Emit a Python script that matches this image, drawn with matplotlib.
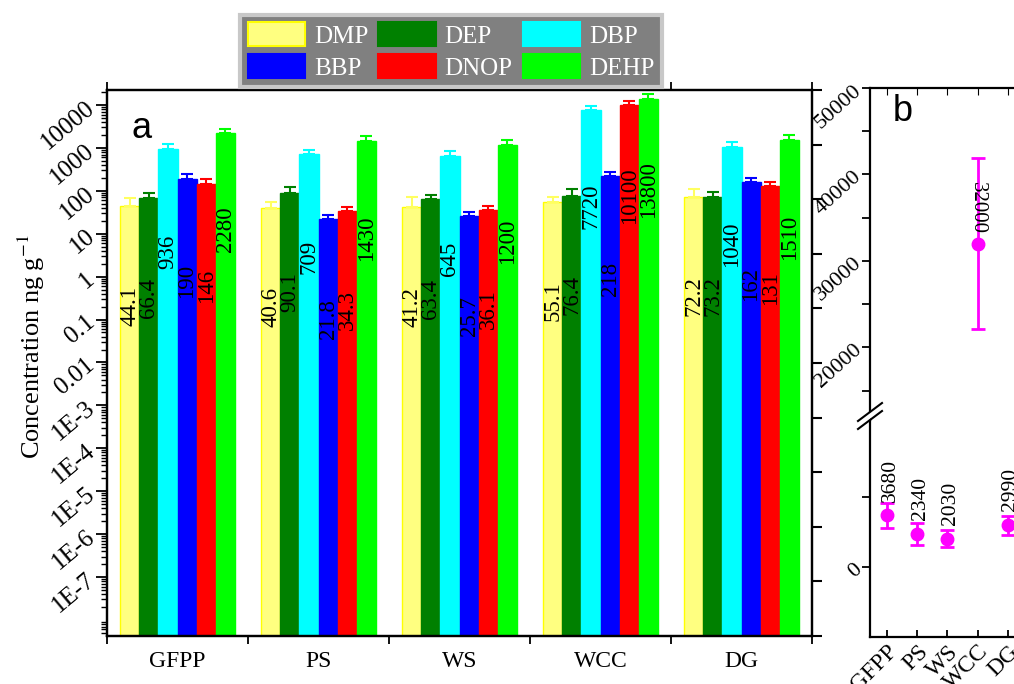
import matplotlib
matplotlib.use('Agg')
import matplotlib.pyplot as plt
import numpy as np
from matplotlib.patches import Patch, Polygon
from matplotlib.lines import Line2D
from matplotlib.ticker import LogLocator, FixedLocator, NullFormatter
from matplotlib.transforms import ScaledTranslation

plt.rcParams['font.family'] = ['Liberation Serif', 'DejaVu Serif']
plt.rcParams['mathtext.fontset'] = 'stix'

# sampling sites and compounds
sites = ['GFPP', 'PS', 'WS', 'WCC', 'DG']
compounds = ['DMP', 'DEP', 'DBP', 'BBP', 'DNOP', 'DEHP']

# mean concentrations (ng/g) per compound, one value per site
dmp = [44.1, 40.6, 41.2, 55.1, 72.2]
dep = [66.4, 90.1, 63.4, 76.4, 73.2]
dbp = [936, 709, 645, 7720, 1040]
bbp = [190, 21.8, 25.7, 218, 162]
dnop = [146, 34.3, 36.1, 10100, 131]
dehp = [2280, 1430, 1200, 13800, 1510]

dmp_err = [24, 15, 29, 17, 39]
dep_err = [25, 34, 15, 35, 23]
dbp_err = [290, 170, 200, 1850, 320]
bbp_err = [59, 5.2, 6.2, 52, 39]
dnop_err = [45, 8.2, 8.7, 2400, 31]
dehp_err = [550, 440, 290, 4300, 470]

# panel b: total concentration per site
total = [3680, 2340, 2030, 32000, 2990]
total_err = [890, 780, 600, 9900, 670]

fills = ['#ffff80', '#008000', '#00ffff', '#0000ff', '#ff0000', '#00ff00']
edges = ['#ffff00', '#008000', '#00ffff', '#0000ff', '#ff0000', '#00ff00']
err_colors = ['#ffff60', '#008000', '#00ffff', '#0000ff', '#ff0000', '#00ff00']

values = [dmp, dep, dbp, bbp, dnop, dehp]
errors = [dmp_err, dep_err, dbp_err, bbp_err, dnop_err, dehp_err]

W, H = 1014, 684
fig = plt.figure(figsize=(W / 100, H / 100), dpi=100)


def fx(px):
    return px / W


def fy(py):
    return 1 - py / H


''' panel a: bars on log scale '''
ax = fig.add_axes([fx(107), fy(636), fx(812) - fx(107), fy(90) - fy(636)])
x = np.arange(len(sites))
width = 0.135
for i, name in enumerate(compounds):
    pos = x + (i - 2.5) * width
    vals = np.array(values[i])
    errs = np.array(errors[i])
    ax.bar(pos, vals, width, color=fills[i], edgecolor=edges[i], linewidth=1,
           yerr=[np.zeros_like(errs), errs],
           error_kw=dict(ecolor=err_colors[i], elinewidth=1.5, capsize=4, capthick=1.5))
    for xp, v in zip(pos, vals):
        ax.annotate(f'{v:g}', (xp, v), xytext=(0, -86), textcoords='offset points',
                    rotation=90, ha='center', va='bottom', fontsize=16.5, color='black')

ax.set_yscale('log')
ax.set_ylim(10 ** -8.375, 10 ** 4.35)
ax.set_xlim(-0.5, 4.5)
ax.yaxis.set_major_locator(FixedLocator([10.0 ** k for k in range(-7, 5)]))
ax.yaxis.set_minor_locator(LogLocator(base=10, subs=np.arange(2, 10), numticks=30))
ax.yaxis.set_minor_formatter(NullFormatter())
ylabels = ['1E-7', '1E-6', '1E-5', '1E-4', '1E-3', '0.01', '0.1', '1', '10', '100', '1000', '10000']
ax.set_yticklabels(ylabels, rotation=40, fontsize=18, ha='right', va='center',
                   rotation_mode='anchor')
ax.tick_params(axis='y', which='major', direction='out', length=8, width=1.3, pad=3)
ax.tick_params(axis='y', which='minor', direction='out', length=4, width=1)

# group boundaries as ticks, names centred under each group
ax.set_xticks(np.arange(-0.5, 5, 1.0))
ax.set_xticklabels([])
ax.set_xticks(x, minor=True)
ax.set_xticklabels(sites, minor=True, fontsize=17)
ax.tick_params(axis='x', which='major', direction='out', length=6, width=1.3, top=True)
ax.tick_params(axis='x', which='minor', length=0, top=False, pad=11)
for s in ax.spines.values():
    s.set_linewidth(1.6)
ax.set_ylabel('Concentration ng g$^{-1}$', fontsize=19, labelpad=2)
ax.yaxis.set_label_coords(-0.085, 0.53)
ax.text(0.035, 0.93, 'a', transform=ax.transAxes, fontsize=26,
        family='Liberation Sans', va='center', ha='left')

# right side of panel a: plain linear ticks without labels
ax_r = ax.twinx()
ax_r.set_ylim(0, 10)
ax_r.set_yticks(np.arange(0, 11))
ax_r.tick_params(axis='y', direction='out', length=7, width=1.5, labelright=False)
for s in ax_r.spines.values():
    s.set_linewidth(1.6)

''' panel b: totals with a broken y axis '''
b_left = fx(870)
b_width = fx(1044) - fx(870)
brk = 420
ax_hi = fig.add_axes([b_left, fy(brk), b_width, fy(88) - fy(brk)])
ax_lo = fig.add_axes([b_left, fy(637), b_width, fy(brk) - fy(637)])
xb = np.arange(1, len(sites) + 1)
for a in (ax_hi, ax_lo):
    a.errorbar(xb, total, yerr=total_err, fmt='o', color='#ff00ff', ms=9,
               elinewidth=2, capsize=5, capthick=2)
    a.set_xlim(0.433, 6.2)
    a.spines['right'].set_visible(False)
    for s in a.spines.values():
        s.set_linewidth(1.6)
    a.patch.set_alpha(0)

ax_hi.set_ylim(11600, 50000)
ax_hi.set_yticks([20000, 30000, 40000, 50000])
ax_hi.set_yticks([15000, 25000, 35000, 45000], minor=True)
ax_hi.set_yticklabels(['20000', '30000', '40000', '50000'], rotation=42, fontsize=16,
                      ha='right', va='center', rotation_mode='anchor')
ax_hi.spines['bottom'].set_visible(False)
ax_hi.tick_params(axis='x', bottom=False, labelbottom=False, top=True, direction='in', length=5)
ax_hi.set_xticks(xb)
ax_hi.tick_params(axis='y', which='both', direction='out', length=6, width=1.3, pad=2)
ax_hi.text(0.13, 0.93, 'b', transform=ax_hi.transAxes, fontsize=26,
           family='Liberation Sans', va='center', ha='left')

ax_lo.set_ylim(-5000, 10500)
ax_lo.set_yticks([0])
ax_lo.set_yticks([5000], minor=True)
ax_lo.set_yticklabels(['0'], rotation=42, fontsize=16, ha='right', va='center',
                      rotation_mode='anchor')
ax_lo.spines['top'].set_visible(False)
ax_lo.set_xticks(xb)
ax_lo.set_xticklabels(sites, rotation=45, fontsize=17, ha='right', va='top',
                      rotation_mode='anchor')
shift = ScaledTranslation(-10 / 72, 0, fig.dpi_scale_trans)
for lbl in ax_lo.get_xticklabels():
    lbl.set_transform(lbl.get_transform() + shift)
ax_lo.tick_params(axis='x', direction='in', length=5, width=1.3, pad=3)
ax_lo.tick_params(axis='y', which='both', direction='out', length=6, width=1.3, pad=2)

for xp, v in zip(xb, total):
    if v > 10000:
        ax_hi.annotate(f'{v:g}', (xp, v), xytext=(0, 7), textcoords='offset points',
                       rotation=270, ha='center', va='bottom', fontsize=15)
    else:
        ax_lo.annotate(f'{v:g}', (xp, v), xytext=(2, 10), textcoords='offset points',
                       rotation=90, ha='center', va='bottom', fontsize=15.5)

# break marks on the panel b axis
gap = Polygon([[fx(858), fy(428)], [fx(882), fy(410)], [fx(882), fy(403)], [fx(858), fy(421)]],
              closed=True, transform=fig.transFigure, facecolor='white', edgecolor='none', zorder=5)
fig.add_artist(gap)
for dy in (0, 8):
    fig.add_artist(Line2D([fx(858), fx(882)], [fy(429 - dy), fy(411 - dy)],
                          transform=fig.transFigure, color='black', lw=1.5, zorder=6))

''' legend above panel a '''
handles = [Patch(facecolor=fills[i], edgecolor=edges[i], linewidth=1.5) for i in range(6)]
order = [0, 3, 1, 4, 2, 5]
leg = fig.legend([handles[i] for i in order], [compounds[i] for i in order],
                 ncol=3, loc='center', bbox_to_anchor=(fx(451), fy(51)),
                 fontsize=18, frameon=True, fancybox=False, framealpha=1,
                 facecolor='#808080', edgecolor='#c8c8c8', handlelength=2.3,
                 handleheight=1.1, handletextpad=0.35, columnspacing=0.4,
                 labelspacing=0.25, borderpad=0.3)
leg.get_frame().set_linewidth(3)
for t in leg.get_texts():
    t.set_color('white')

fig.savefig('out.png', dpi=100)
